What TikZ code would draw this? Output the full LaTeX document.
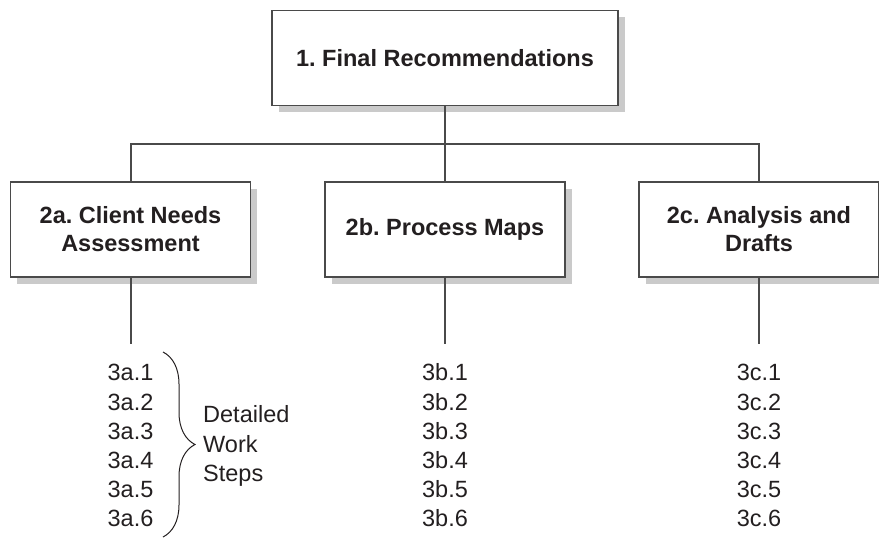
\documentclass[tikz,border=0pt]{standalone}
\usepackage{fontspec}
\setmainfont{Liberation Sans}
\usepackage{tikz}
\usetikzlibrary{positioning, shadows, decorations.pathreplacing}
\definecolor{colorLine}{HTML}{4A4A4A}
\definecolor{colorShadow}{HTML}{CACACA}
\definecolor{colorText}{HTML}{231F20}
\frenchspacing
\tikzset{
  box/.style={draw=colorLine, line width=1.8pt, fill=white, align=center,
    minimum width=240pt, minimum height=95pt, text=colorText,
    font=\fontsize{23.5}{28}\selectfont\bfseries,
    drop shadow={shadow xshift=6.5pt, shadow yshift=-6.5pt, fill=colorShadow, opacity=1}},
  steps/.style={align=center, inner sep=0pt, text=colorText,
    font=\fontsize{23.5}{29.2}\selectfont},
  link/.style={draw=colorLine, line width=2pt},
  bracket/.style={draw=colorText, line width=1pt, decorate,
    decoration={brace, amplitude=32pt, aspect=0.5}}
}

\begin{document}
\begin{tikzpicture}[x=1pt, y=-1pt]
\useasboundingbox (0,0) rectangle (879,538);
% boxes
\node[box, minimum width=346pt] (final) at (445,58) {1. Final Recommendations};
\node[box] (needs) at (130.5,229.5) {2a. Client Needs\\Assessment};
\node[box] (maps) at (445,229.5) {2b. Process Maps};
\node[box] (drafts) at (759,229.5) {2c. Analysis and\\Drafts};
% tree lines
\draw[link] (final.south) -- (maps.north);
\draw[link] (final.south) -- ++(0,38) -| (needs.north);
\draw[link] (final.south) -- ++(0,38) -| (drafts.north);
\draw[link] (needs.south) -- ++(0,66) coordinate (stubA);
\draw[link] (maps.south) -- ++(0,66) coordinate (stubB);
\draw[link] (drafts.south) -- ++(0,66) coordinate (stubC);
% work steps (base = last line)
\node[steps, anchor=base] (stepsA) at ([yshift=-183pt]stubA) {3a.1\\3a.2\\3a.3\\3a.4\\3a.5\\3a.6};
\node[steps, anchor=base] (stepsB) at ([yshift=-183pt]stubB) {3b.1\\3b.2\\3b.3\\3b.4\\3b.5\\3b.6};
\node[steps, anchor=base] (stepsC) at ([yshift=-183pt]stubC) {3c.1\\3c.2\\3c.3\\3c.4\\3c.5\\3c.6};
\coordinate (braceTop) at (163,352);
\coordinate (braceBottom) at (163,537);
\coordinate (braceTip) at (195,446);
\draw[bracket] (braceTop) -- (braceBottom);
\node[steps, align=left, right=8pt of braceTip] (detail) {Detailed\\Work\\Steps};
\end{tikzpicture}
\end{document}
